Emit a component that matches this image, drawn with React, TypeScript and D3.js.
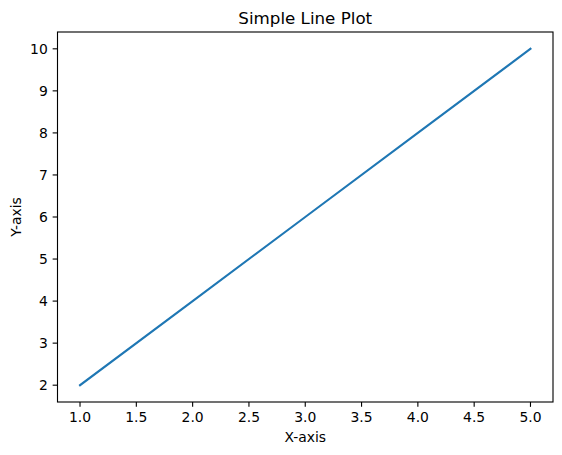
import React from "react";
import * as d3 from "d3";

const xValues = [1, 2, 3, 4, 5];
const yValues = [2, 4, 6, 8, 10];
const xTicks = [1.0, 1.5, 2.0, 2.5, 3.0, 3.5, 4.0, 4.5, 5.0];
const yTicks = [2, 3, 4, 5, 6, 7, 8, 9, 10];
const title = "Simple Line Plot";
const xLabel = "X-axis";
const yLabel = "Y-axis";

export default function App() {
  const W = 562, H = 455;
  const L = 57.5, R = 553, T = 32, B = 402;
  const xs = d3.scaleLinear().domain([1 - 0.2, 5 + 0.2]).range([L, R]);
  const ys = d3.scaleLinear().domain([2 - 0.4, 10 + 0.4]).range([B, T]);
  const pts = xValues.map((x, i) => [x, yValues[i]] as [number, number]);
  const line = d3.line<[number, number]>().x(d => xs(d[0])).y(d => ys(d[1]));
  const font = "DejaVu Sans, sans-serif";
  return (
    <div style={{ position: "absolute", left: 0, top: 0 }}>
      <svg width={W} height={H} style={{ display: "block" }}>
        <rect width={W} height={H} fill="#fff" />
        <path d={line(pts) || ""} fill="none" stroke="#1f77b4" strokeWidth={2.08} strokeLinecap="square" />
        <rect x={L} y={T} width={R - L} height={B - T} fill="none" stroke="#000" strokeWidth={1.11} />
        {xTicks.map(t => (
          <g key={t}>
            <line x1={xs(t)} x2={xs(t)} y1={B} y2={B + 4.86} stroke="#000" strokeWidth={1.11} />
            <text x={xs(t)} y={B + 4.86 + 4.86 + 10.5} textAnchor="middle" fontFamily={font} fontSize={13.9} fill="#000">
              {t.toFixed(1)}
            </text>
          </g>
        ))}
        {yTicks.map(t => (
          <g key={t}>
            <line x1={L - 4.86} x2={L} y1={ys(t)} y2={ys(t)} stroke="#000" strokeWidth={1.11} />
            <text x={L - 4.86 - 4.86} y={ys(t)} dy="0.36em" textAnchor="end" fontFamily={font} fontSize={13.9} fill="#000">
              {t}
            </text>
          </g>
        ))}
        <text x={(L + R) / 2} y={T - 8.3} textAnchor="middle" fontFamily={font} fontSize={16.7} fill="#000">
          {title}
        </text>
        <text x={(L + R) / 2} y={442} textAnchor="middle" fontFamily={font} fontSize={13.9} fill="#000">
          {xLabel}
        </text>
        <text transform={`translate(21, ${(T + B) / 2}) rotate(-90)`} textAnchor="middle" fontFamily={font} fontSize={13.9} fill="#000">
          {yLabel}
        </text>
      </svg>
    </div>
  );
}
